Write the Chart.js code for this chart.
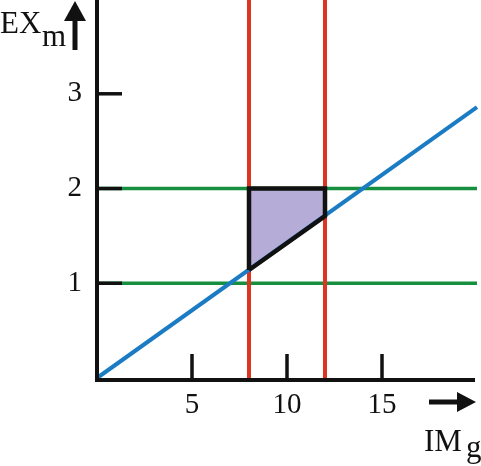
<!DOCTYPE html>
<html>
<head>
<meta charset="utf-8">
<script src="https://cdn.jsdelivr.net/npm/chart.js@4/dist/chart.umd.min.js"></script>
<style>
  body { margin: 0; background: #fff; }
  canvas { display: block; }
</style>
</head>
<body>
<canvas id="chart" width="481" height="466"></canvas>
<script>
// axis ranges and ticks
let xMax = 20;
let yMax = 3.99;
let xTicks = [5, 10, 15];
let yTicks = [1, 2, 3];

// blue line
let blueX = [0, 20];
let blueY = [0, 2.86];

// horizontal green levels and vertical red levels
let greenLevels = [1, 2];
let redLevels = [8, 12];

// shaded area between the red lines
let areaX = [8, 12];
let areaTop = [2, 2];
let areaBottom = [1.14, 1.71];

const BLUE = "#1b7cc4";
const GREEN = "#16903e";
const RED = "#dc3522";
const FILL = "#b6acd8";
const FONT = "'Liberation Serif', 'Times New Roman', Times, serif";

function pts(xs, ys) {
    return xs.map((x, i) => ({ x: x, y: ys[i] }));
}

let datasets = [];

// outline of the shaded area (on top)
datasets.push({
    data: [
        { x: areaX[0], y: areaBottom[0] },
        { x: areaX[0], y: areaTop[0] },
        { x: areaX[1], y: areaTop[1] },
        { x: areaX[1], y: areaBottom[1] },
        { x: areaX[0], y: areaBottom[0] }
    ],
    borderColor: "#111",
    borderWidth: 4.5,
    borderJoinStyle: "miter",
    order: 0
});

datasets.push({
    data: pts(blueX, blueY),
    borderColor: BLUE,
    borderWidth: 4,
    order: 1
});

redLevels.forEach(v => {
    datasets.push({
        data: [{ x: v, y: 0 }, { x: v, y: yMax }],
        borderColor: RED,
        borderWidth: 4,
        order: 2
    });
});

greenLevels.forEach(v => {
    datasets.push({
        data: [{ x: 0, y: v }, { x: xMax, y: v }],
        borderColor: GREEN,
        borderWidth: 3.5,
        order: 3
    });
});

// fill between top and bottom edge
datasets.push({
    data: pts(areaX, areaTop),
    borderWidth: 0,
    borderColor: "rgba(0,0,0,0)",
    backgroundColor: FILL,
    fill: "+1",
    order: 4
});
datasets.push({
    data: pts(areaX, areaBottom),
    borderWidth: 0,
    borderColor: "rgba(0,0,0,0)",
    order: 5
});

const axesPlugin = {
    id: "axes",
    afterDatasetsDraw(chart) {
        const ctx = chart.ctx;
        const x = chart.scales.x;
        const y = chart.scales.y;
        const x0 = x.getPixelForValue(0);
        const y0 = y.getPixelForValue(0);

        ctx.save();
        ctx.strokeStyle = "#111";
        ctx.fillStyle = "#111";
        ctx.lineWidth = 4;
        ctx.lineCap = "butt";

        // axis lines
        ctx.beginPath();
        ctx.moveTo(x0, 0);
        ctx.lineTo(x0, y0 + 2);
        ctx.lineTo(x.getPixelForValue(xMax) - 2, y0 + 2);
        ctx.stroke();

        // ticks
        ctx.lineWidth = 3.5;
        yTicks.forEach(v => {
            const py = y.getPixelForValue(v);
            ctx.beginPath();
            ctx.moveTo(x0, py);
            ctx.lineTo(x0 + 25, py);
            ctx.stroke();
        });
        xTicks.forEach(v => {
            const px = x.getPixelForValue(v);
            ctx.beginPath();
            ctx.moveTo(px, y0);
            ctx.lineTo(px, y0 - 24);
            ctx.stroke();
        });

        // tick labels
        ctx.font = "29px " + FONT;
        ctx.textBaseline = "middle";
        ctx.textAlign = "right";
        yTicks.forEach(v => ctx.fillText(String(v), x0 - 15, y.getPixelForValue(v)));
        ctx.textAlign = "center";
        xTicks.forEach(v => ctx.fillText(String(v), x.getPixelForValue(v), y0 + 27));

        // y arrow
        ctx.lineWidth = 5;
        ctx.beginPath();
        ctx.moveTo(75, 50);
        ctx.lineTo(75, 16);
        ctx.stroke();
        ctx.beginPath();
        ctx.moveTo(64, 21);
        ctx.lineTo(75, 1);
        ctx.lineTo(86, 21);
        ctx.closePath();
        ctx.fill();

        // x arrow
        ctx.beginPath();
        ctx.moveTo(429, 402);
        ctx.lineTo(460, 402);
        ctx.stroke();
        ctx.beginPath();
        ctx.moveTo(457, 392);
        ctx.lineTo(476, 402);
        ctx.lineTo(457, 412);
        ctx.closePath();
        ctx.fill();

        // axis titles
        ctx.font = "31px " + FONT;
        ctx.textAlign = "left";
        ctx.textBaseline = "alphabetic";
        ctx.fillText("EX", 0, 33);
        ctx.fillText("m", 42, 46);
        ctx.fillText("IM", 424, 451);
        ctx.fillText("g", 466, 457);
        ctx.restore();
    }
};

new Chart(document.getElementById("chart"), {
    type: "line",
    data: { datasets: datasets },
    options: {
        responsive: false,
        animation: false,
        events: [],
        layout: { padding: { left: 97, right: 4, top: 0, bottom: 88 } },
        elements: {
            point: { radius: 0, hoverRadius: 0 },
            line: { tension: 0, capBezierPoints: false }
        },
        datasets: { line: { clip: false, fill: false } },
        plugins: {
            legend: { display: false },
            tooltip: { enabled: false }
        },
        scales: {
            x: { type: "linear", min: 0, max: xMax, display: false },
            y: { type: "linear", min: 0, max: yMax, display: false }
        }
    },
    plugins: [axesPlugin]
});
</script>
</body>
</html>
